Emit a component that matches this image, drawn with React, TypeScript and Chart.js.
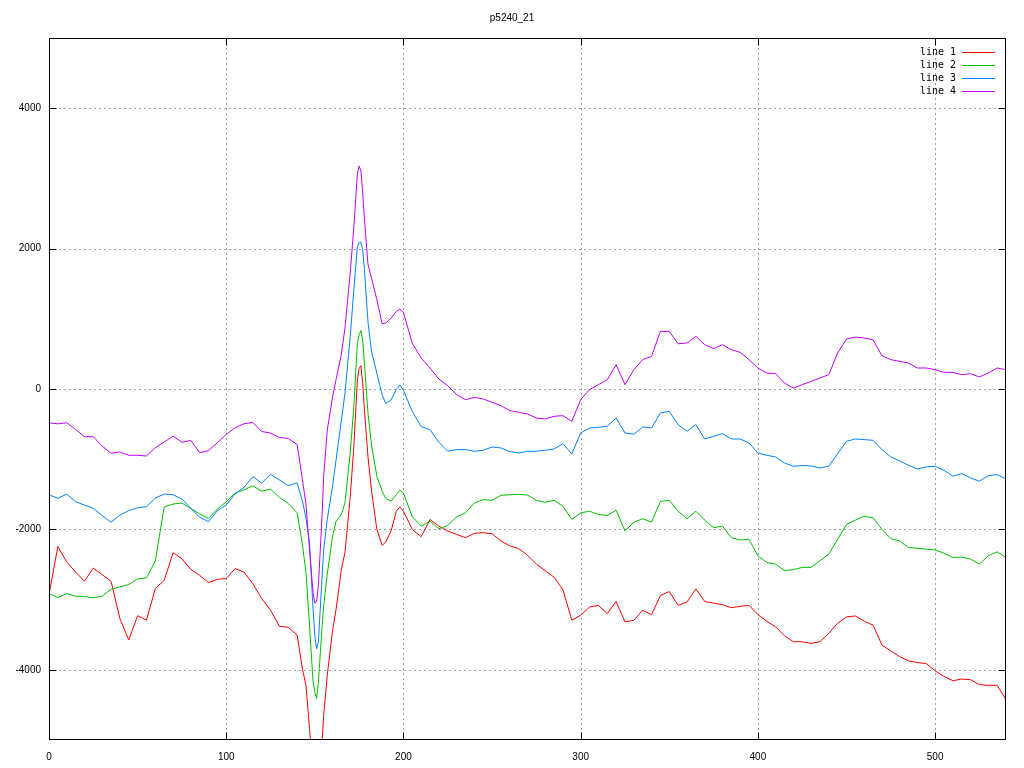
import React, { useEffect, useRef } from "react";
import { Chart, registerables } from "chart.js";

Chart.register(...registerables);

const TITLE = "p5240_21";
const seriesNames = ["line 1", "line 2", "line 3", "line 4"];
const seriesColors = ["#ff0000", "#00c000", "#0080ff", "#c000ff"];
const xTicks = [0, 100, 200, 300, 400, 500];
const yTicks = [-4000, -2000, 0, 2000, 4000];

const xValues = [
  0, 5, 10, 15, 20, 25, 30, 35, 40, 45, 50, 55, 60, 65, 70, 75, 80, 85, 90, 95,
  100, 105, 110, 115, 120, 125, 130, 135,
  140, 143, 145, 147, 149, 150, 151, 152, 154, 155, 157, 160, 162, 165, 167, 170,
  172, 174, 175, 176, 177, 178, 180, 182, 185, 188, 190, 193, 196, 198, 200,
  205, 210, 215, 220, 225, 230, 235, 240, 245, 250, 255, 260, 265, 270, 275, 280,
  285, 290, 295, 300, 305, 310, 315, 320, 325, 330, 335, 340, 345, 350, 355, 360,
  365, 370, 375, 380, 385, 390, 395, 400, 405, 410, 415, 420, 425, 430, 435, 440,
  445, 450, 455, 460, 465, 470, 475, 480, 485, 490, 495, 500, 505, 510, 515, 520,
  525, 530, 535, 540,
];

const line1 = [
  -2928, -2243, -2465, -2607, -2739, -2550, -2645, -2739, -3268, -3575, -3230, -3292,
  -2843, -2725, -2333, -2418, -2569, -2654, -2758, -2711,
  -2701, -2560, -2607, -2772, -2985, -3150, -3380, -3395,
  -3504, -3986, -4222, -4837, -5400, -5700, -5800, -5600, -5050, -4648, -4080, -3442,
  -3135, -2567, -2331, -1527,
  -824, 129, 295, 333, 81, -300, -967, -1450, -2000, -2227, -2180, -2024, -1740, -1679, -1741,
  -2000, -2104, -1859, -1953, -2024, -2071, -2118, -2056, -2047, -2061, -2165, -2235,
  -2273, -2367, -2494, -2588,
  -2682, -2861, -3294, -3224, -3106, -3082, -3200, -3026, -3318, -3294, -3153, -3214,
  -2941, -2885, -3082, -3035,
  -2847, -3026, -3050, -3073, -3115, -3096, -3082, -3214, -3308, -3388, -3515, -3600,
  -3600, -3624, -3600, -3482,
  -3337, -3247, -3233, -3308, -3365, -3647, -3732, -3812, -3873, -3897, -3911, -4014,
  -4094, -4155, -4132, -4141,
  -4212, -4221, -4221, -4424,
];

const line2 = [
  -2914, -2971, -2914, -2952, -2956, -2975, -2952, -2852, -2819, -2786, -2706, -2692,
  -2450, -1680, -1639, -1625, -1700, -1780, -1842, -1710,
  -1606, -1483, -1436, -1379, -1455, -1426, -1544, -1631,
  -1764, -2213, -2615, -3371, -4175, -4317, -4411, -4175, -3418, -3087, -2638, -2095,
  -1882, -1787, -1622, -900,
  -252, 652, 771, 833, 700, 367, -348, -800, -1244, -1456, -1560, -1598, -1504, -1442, -1480,
  -1820, -1953, -1882, -1991, -1944, -1821, -1765, -1624, -1576, -1586, -1515, -1506,
  -1501, -1511, -1586, -1614,
  -1586, -1671, -1859, -1765, -1741, -1788, -1802, -1727, -2024, -1896, -1849, -1896,
  -1600, -1586, -1741, -1849,
  -1741, -1868, -1976, -1953, -2118, -2151, -2141, -2376, -2471, -2494, -2588, -2574,
  -2541, -2541, -2447, -2353,
  -2141, -1929, -1868, -1812, -1835, -2000, -2132, -2165, -2259, -2268, -2282, -2292,
  -2339, -2400, -2395, -2424,
  -2494, -2376, -2320, -2400,
];

const line3 = [
  -1506, -1558, -1497, -1606, -1653, -1700, -1804, -1898, -1795, -1733, -1691, -1677,
  -1554, -1497, -1506, -1568, -1700, -1828, -1889, -1733,
  -1653, -1497, -1403, -1247, -1341, -1214, -1295, -1376,
  -1338, -1598, -1835, -2189, -3135, -3513, -3702, -3608, -2709, -2284, -1858, -1385,
  -1007, -443, -62, 748,
  1414, 2033, 2090, 2090, 1986, 1690, 950, 533, 224, -86, -205, -157, -5, 57, -20,
  -320, -535, -580, -759, -887, -863, -863, -887, -873, -826, -840, -892,
  -911, -887, -887, -873,
  -854, -778, -925, -626, -555, -546, -531, -413, -626, -645, -541, -555,
  -342, -318, -508, -602,
  -508, -712, -674, -636, -712, -712, -769, -911, -944, -968, -1053, -1101,
  -1091, -1096, -1125, -1101,
  -921, -745, -712, -721, -731, -863, -968, -1025, -1087, -1139, -1110, -1101,
  -1158, -1243, -1205, -1267,
  -1314, -1234, -1219, -1281,
];

const line4 = [
  -482, -496, -482, -576, -680, -680, -812, -916, -897, -944, -944, -954,
  -836, -756, -671, -760, -732, -907, -878, -765,
  -647, -553, -495, -475, -605, -628, -690, -705,
  -790, -1291, -1645, -2284, -2898, -3050, -3030, -2804, -1844, -1244, -586, -114,
  138, 500, 867, 1662,
  2300, 3062, 3176, 3105, 2795, 2414, 1771, 1581, 1271, 929, 938, 1010, 1105, 1138, 1090,
  650, 441, 299, 142, 47, -81, -152, -119, -142, -190, -237, -308,
  -332, -356, -413, -427,
  -389, -380, -460, -152, -10, 62, 133, 346, 62, 275, 418, 465,
  821, 821, 645, 655,
  750, 631, 575, 631, 560, 522, 418, 299, 228, 218, 85, 14,
  62, 109, 157, 204,
  512, 712, 740, 726, 702, 474, 418, 394, 370, 299, 299, 275,
  237, 237, 204, 218,
  171, 228, 299, 275,
];

const seriesValues = [line1, line2, line3, line4];

const gnuplotFrame = {
  id: "gnuplotFrame",
  beforeDatasetsDraw(chart: any) {
    const { ctx, chartArea: a, scales } = chart;
    ctx.save();
    ctx.strokeStyle = "#a0a0a0";
    ctx.lineWidth = 1;
    ctx.setLineDash([2, 3]);
    xTicks.forEach((v) => {
      if (v === 0) return;
      const px = Math.round(scales.x.getPixelForValue(v)) + 0.5;
      ctx.beginPath();
      ctx.moveTo(px, a.top);
      ctx.lineTo(px, a.bottom);
      ctx.stroke();
    });
    yTicks.forEach((v) => {
      const py = Math.round(scales.y.getPixelForValue(v)) + 0.5;
      ctx.beginPath();
      ctx.moveTo(a.left, py);
      ctx.lineTo(a.right, py);
      ctx.stroke();
    });
    ctx.restore();
  },
  afterDatasetsDraw(chart: any) {
    const { ctx, chartArea: a, scales } = chart;
    ctx.save();
    ctx.setLineDash([]);
    ctx.strokeStyle = "#000000";
    ctx.lineWidth = 1;
    const L = Math.round(a.left) + 0.5;
    const R = Math.round(a.right) - 0.5;
    const T = Math.round(a.top) + 0.5;
    const B = Math.round(a.bottom) - 0.5;
    ctx.strokeRect(L, T, R - L, B - T);
    const tl = 7;
    xTicks.forEach((v) => {
      const px = Math.round(scales.x.getPixelForValue(v)) + 0.5;
      ctx.beginPath();
      ctx.moveTo(px, B);
      ctx.lineTo(px, B - tl);
      ctx.moveTo(px, T);
      ctx.lineTo(px, T + tl);
      ctx.stroke();
    });
    yTicks.forEach((v) => {
      const py = Math.round(scales.y.getPixelForValue(v)) + 0.5;
      ctx.beginPath();
      ctx.moveTo(L, py);
      ctx.lineTo(L + tl, py);
      ctx.moveTo(R, py);
      ctx.lineTo(R - tl, py);
      ctx.stroke();
    });
    // title
    ctx.fillStyle = "#000000";
    ctx.font = "10px 'Liberation Sans', sans-serif";
    ctx.textAlign = "center";
    ctx.textBaseline = "middle";
    ctx.fillText(TITLE, 512, 18);
    // legend
    ctx.font = "10px 'DejaVu Sans Mono', monospace";
    ctx.textAlign = "right";
    seriesNames.forEach((name, i) => {
      const y = 52 + i * 13;
      ctx.fillStyle = "#000000";
      ctx.fillText(name, 956, y);
      ctx.strokeStyle = seriesColors[i];
      ctx.beginPath();
      ctx.moveTo(962, y + 0.5);
      ctx.lineTo(995, y + 0.5);
      ctx.stroke();
    });
    ctx.restore();
  },
};

export default function App() {
  const ref = useRef<HTMLCanvasElement | null>(null);
  useEffect(() => {
    document.body.style.margin = "0";
    const canvas = ref.current;
    if (!canvas) return;
    const datasets = seriesNames.map((name, i) => ({
      label: name,
      data: xValues.map((x, j) => ({ x, y: seriesValues[i][j] })),
      borderColor: seriesColors[i],
      backgroundColor: seriesColors[i],
      borderWidth: 1,
      pointRadius: 0,
      tension: 0,
      fill: false,
      order: 4 - i,
    }));
    const tickFont = { family: "'Liberation Sans', sans-serif", size: 10 };
    const chart = new Chart(canvas, {
      type: "line",
      data: { datasets },
      plugins: [gnuplotFrame],
      options: {
        animation: false,
        responsive: false,
        maintainAspectRatio: false,
        layout: { padding: { left: 0, right: 18, top: 38, bottom: 0 } },
        plugins: {
          legend: { display: false },
          title: { display: false },
          tooltip: { enabled: false },
        },
        scales: {
          x: {
            type: "linear",
            min: 0,
            max: 540,
            grid: { display: false, drawTicks: false },
            border: { display: false },
            afterBuildTicks: (scale: any) => {
              scale.ticks = xTicks.map((v) => ({ value: v }));
            },
            afterFit: (scale: any) => {
              scale.height = 28;
            },
            ticks: {
              color: "#000000",
              font: tickFont,
              padding: 11,
              maxRotation: 0,
              autoSkip: false,
              callback: (v: any) => String(v),
            },
          },
          y: {
            type: "linear",
            min: -5000,
            max: 5000,
            grid: { display: false, drawTicks: false },
            border: { display: false },
            afterBuildTicks: (scale: any) => {
              scale.ticks = yTicks.map((v) => ({ value: v }));
            },
            afterFit: (scale: any) => {
              scale.width = 49;
            },
            ticks: {
              color: "#000000",
              font: tickFont,
              padding: 8,
              autoSkip: false,
              callback: (v: any) => String(v),
            },
          },
        },
      },
    });
    return () => chart.destroy();
  }, []);
  return (
    <div style={{ position: "absolute", left: 0, top: 0, width: 1024, height: 768, background: "#ffffff" }}>
      <canvas ref={ref} width={1024} height={768} style={{ display: "block" }} />
    </div>
  );
}
